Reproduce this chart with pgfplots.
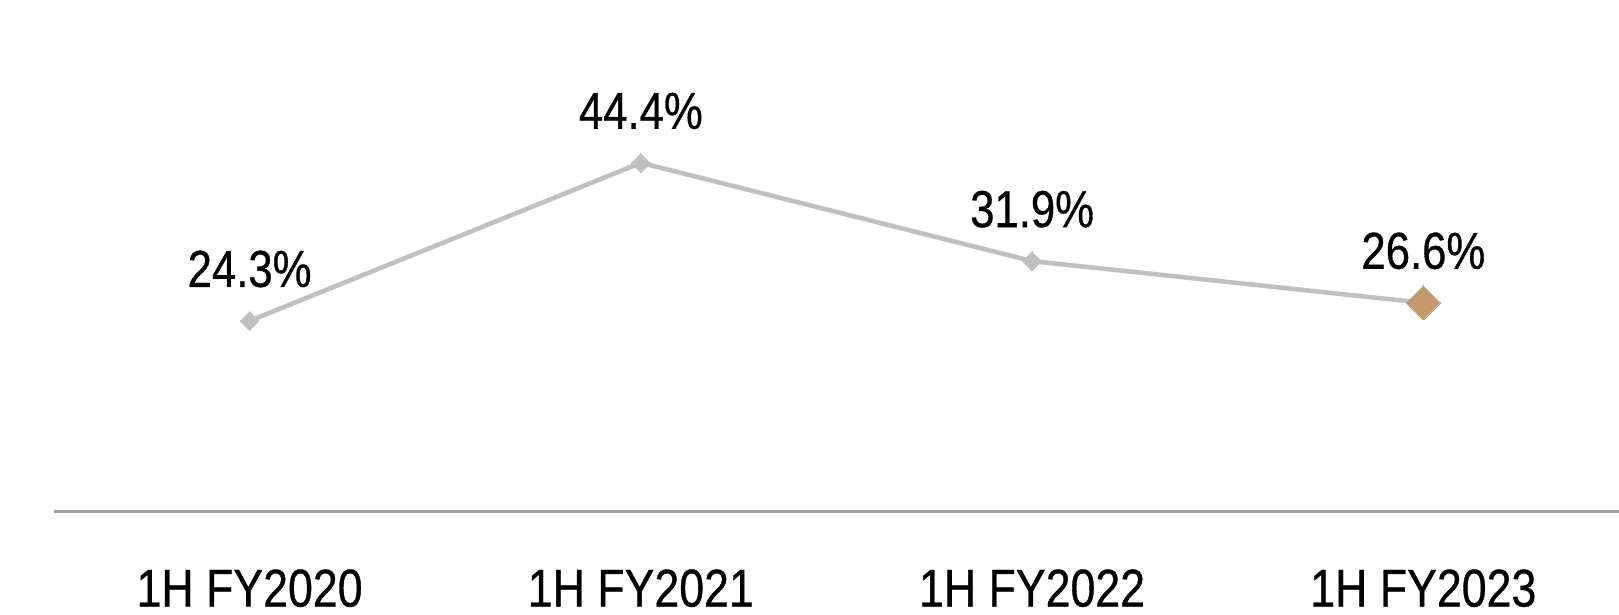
\documentclass[border=0pt]{standalone}
\usepackage{fontspec}
\setmainfont{Liberation Sans}[FakeStretch=0.84,FakeBold=0.6]
\usepackage{pgfplots}
\pgfplotsset{compat=1.18}
\definecolor{linegray}{RGB}{192,192,192}
\definecolor{axisgray}{RGB}{160,160,160}
\definecolor{tan}{RGB}{196,154,108}
\begin{document}
\begin{tikzpicture}
\path[use as bounding box] (-27pt,-51.5pt) rectangle (782.5pt,256pt);
\begin{axis}[
  at={(0,0)}, anchor=south west,
  scale only axis, width=782.5pt, height=256pt,
  xmin=-0.5, xmax=3.5, ymin=0, ymax=65.1,
  clip=false,
  axis y line=none,
  axis x line*=bottom,
  x axis line style={axisgray, line width=1.5pt},
  xtick={0,1,2,3},
  xticklabels={1H FY2020,1H FY2021,1H FY2022,1H FY2023},
  major tick length=0pt,
  xticklabel style={font=\fontsize{26.6}{30}\selectfont, anchor=north, inner sep=0pt, yshift=-28.5pt, text=black},
  every node near coord/.style={font=\fontsize{26}{30}\selectfont, anchor=base, inner sep=0pt, yshift=17pt, text=black},
]
\addplot[linegray, line width=2.3pt, mark=square*, mark size=3.3pt, mark options={linegray, line width=0pt, rotate=45}] coordinates {(0,24.3) (1,44.4) (2,31.9) (3,26.6)};
\addplot[draw=none, mark=none, nodes near coords={\pgfmathprintnumber[fixed,precision=1,fixed zerofill,assume math mode=true]{\pgfplotspointmeta}\%}] coordinates {(0,24.3) (1,44.4) (2,31.9) (3,26.6)};
\addplot[draw=none, mark=square*, mark size=6pt, mark options={draw=tan, fill=tan, line width=0pt, rotate=45}] coordinates {(3,26.6)};
\end{axis}
\end{tikzpicture}
\end{document}
